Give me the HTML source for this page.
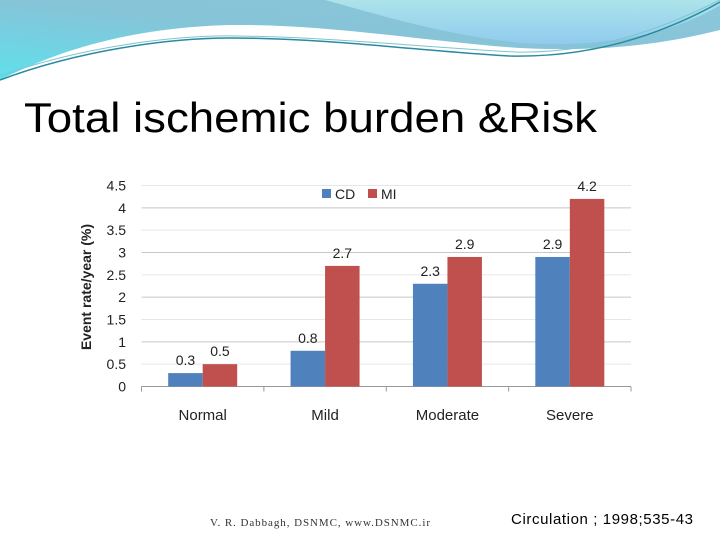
<!DOCTYPE html>
<html><head><meta charset="utf-8"><style>
body{margin:0;width:720px;height:540px;overflow:hidden;background:#fff;font-family:"Liberation Sans",sans-serif}
</style></head><body>
<svg width="720" height="540" xmlns="http://www.w3.org/2000/svg">
<defs>
<linearGradient id="g1" x1="0" y1="1" x2="1" y2="0"><stop offset="0" stop-color="#5fe0ec"/><stop offset="0.5" stop-color="#86c4d8"/><stop offset="1" stop-color="#8cc6da"/></linearGradient>
<linearGradient id="g2" x1="0" y1="0" x2="0" y2="1"><stop offset="0" stop-color="#ade3ea"/><stop offset="1" stop-color="#90cbee"/></linearGradient>
</defs>
<g>
<path d="M0,0 H720 V30 C660,45 600,52 520,48 C430,42 330,24 230,25 C120,28 50,55 0,80 Z" fill="url(#g1)"/>
<path d="M325,0 H720 V5 C680,30 620,46 540,44 C460,40 380,15 325,0 Z" fill="url(#g2)"/>
<path d="M0,80 C80,50 170,38 230,38 C330,38 430,52 510,56 C600,58 670,30 720,2" fill="none" stroke="#2a8aa0" stroke-width="1.5"/>
<path d="M0,76 C80,47 175,35 235,36 C335,37 430,48 515,52 C605,54 675,22 720,0" fill="none" stroke="#7fc4d0" stroke-width="1"/>
</g>
<text x="24" y="132" font-size="42" textLength="573" lengthAdjust="spacingAndGlyphs" fill="#000">Total ischemic burden &amp;Risk</text>
<g id="chart"></g>
<text x="210" y="526" font-family="Liberation Serif,serif" font-size="11" textLength="220" fill="#333">V. R. Dabbagh, DSNMC,   www.DSNMC.ir</text>
<text x="511" y="524" font-size="15" textLength="182" fill="#000">Circulation ; 1998;535-43</text>
</svg>
<script>
const categories=["Normal","Mild","Moderate","Severe"];
const cdValues=[0.3,0.8,2.3,2.9];
const miValues=[0.5,2.7,2.9,4.2];
const yTicks=[0,0.5,1,1.5,2,2.5,3,3.5,4,4.5];
const yTickLabels=["0","0.5","1","1.5","2","2.5","3","3.5","4","4.5"];
const NS="http://www.w3.org/2000/svg";
const g=document.getElementById("chart");
const x0=141.5,x1=631,y0=386.5,y1=185.5,ymax=4.5;
const cw=(x1-x0)/categories.length,bw=34.5;
function ys(v){return y0-(v/ymax)*(y0-y1);}
function mk(t,a,txt){const e=document.createElementNS(NS,t);for(const k in a)e.setAttribute(k,a[k]);if(txt!==undefined)e.textContent=txt;g.appendChild(e);return e;}
yTicks.forEach((v,i)=>{
 if(v>0){const l=mk("line",{x1:x0,x2:x1,y1:ys(v),y2:ys(v),stroke:i%2==0?"#c8c8c8":"#e6e6e6","stroke-width":1});
 
 }
 const t=mk("text",{x:126,y:ys(v)+5,"text-anchor":"end","font-size":14,fill:"#222"},yTickLabels[i]);
 
 
});
const ax=mk("line",{x1:x0,x2:x1,y1:y0,y2:y0,stroke:"#999","stroke-width":1});


for(let i=0;i<=categories.length;i++){
 const tk=mk("line",{x1:x0+i*cw,x2:x0+i*cw,y1:y0,y2:y0+5,stroke:"#999"});
 
 
}
categories.forEach((c,i)=>{
 const cx=x0+cw*(i+0.5);
 [[cdValues[i],"#4f81bd",cx-bw,"bar-cd"],[miValues[i],"#c0504d",cx,"bar-mi"]].forEach(([v,col,bx,nm])=>{
  const r=mk("rect",{x:bx,y:ys(v),width:bw,height:y0-ys(v),fill:col});
  
  
  const t=mk("text",{x:bx+bw/2,y:ys(v)-8,"text-anchor":"middle","font-size":14,fill:"#222"},v.toFixed(1));
  
  
 });
 const lb=mk("text",{x:cx,y:420,"text-anchor":"middle","font-size":15,fill:"#222"},c);
 
 
});
const yt=mk("text",{x:0,y:0,transform:"translate(91,287) rotate(-90)","text-anchor":"middle","font-size":14,"font-weight":"bold",fill:"#222"},"Event rate/year (%)");


[["#4f81bd","CD",322],["#c0504d","MI",368]].forEach(([col,txt,lx])=>{
 const r=mk("rect",{x:lx,y:189,width:9,height:9,fill:col});
 
 
 const t=mk("text",{x:lx+13,y:199,"font-size":14,fill:"#222"},txt);
 
 
});
</script>
</body></html>
